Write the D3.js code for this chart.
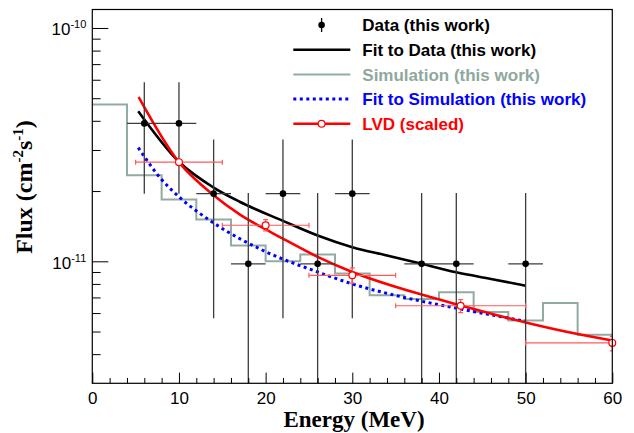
<!DOCTYPE html>
<html>
<head>
<meta charset="utf-8">
<script src="https://cdn.jsdelivr.net/npm/d3@7"></script>
<style>
  body { margin: 0; background: #fff; }
  text { font-family: "Liberation Sans", Arial, Helvetica, sans-serif; }
</style>
</head>
<body>
<div id="chart"></div>
<script>
// Data points (this work)
const dataE = [6, 10, 14, 18, 22, 26, 30, 38, 42, 50];
const dataFlux = [3.9e-11, 3.9e-11, 1.95e-11, 9.75e-12, 1.95e-11, 9.75e-12, 1.95e-11, 9.75e-12, 9.75e-12, 9.75e-12];
const dataLow = [1.95e-11, 1.95e-11, 5.7e-12, 0, 5.7e-12, 0, 5.7e-12, 0, 0, 0];
const dataHigh = [5.85e-11, 5.85e-11, 3.33e-11, 1.96e-11, 3.33e-11, 1.96e-11, 3.33e-11, 1.96e-11, 1.96e-11, 1.96e-11];
const dataHalfBin = 2;

// Simulation histogram
const simEdges = [0, 4, 8, 12, 16, 20, 24, 28, 32, 36, 40, 44, 48, 52, 56, 60];
const simFlux = [4.70e-11, 2.34e-11, 1.84e-11, 1.51e-11, 1.17e-11, 1.00e-11, 1.07e-11, 8.86e-12,
                 7.15e-12, 6.90e-12, 7.36e-12, 6.07e-12, 5.58e-12, 6.63e-12, 4.84e-12];

// Fit to data
const fitDataE = [5.3, 10, 14, 17, 22, 26, 30, 34, 38, 42, 46, 50];
const fitDataFlux = [4.40e-11, 2.67e-11, 2.07e-11, 1.80e-11, 1.49e-11, 1.29e-11, 1.15e-11, 1.06e-11,
                     9.76e-12, 8.97e-12, 8.40e-12, 7.86e-12];

// Fit to simulation
const fitSimE = [5.3, 8, 10, 14, 20, 26, 30, 36, 42, 50];
const fitSimFlux = [3.07e-11, 2.24e-11, 1.89e-11, 1.46e-11, 1.10e-11, 9.0e-12, 8.0e-12, 7.0e-12, 6.3e-12, 5.53e-12];

// LVD (scaled) curve and points
const lvdCurveE = [5.35, 10, 14, 17, 20, 22, 26, 30, 38, 42, 50, 56, 60];
const lvdCurveFlux = [5.06e-11, 2.66e-11, 1.92e-11, 1.59e-11, 1.37e-11, 1.25e-11, 1.045e-11, 9.0e-12,
                      7.2e-12, 6.55e-12, 5.47e-12, 4.88e-12, 4.58e-12];
const lvdE = [10, 20, 30, 42.5, 60];
const lvdFlux = [2.66e-11, 1.427e-11, 8.71e-12, 6.45e-12, 4.47e-12];
const lvdELow = [5, 15, 25, 35, 50];
const lvdEHigh = [15, 25, 35, 50, 70];
const lvdFluxLow = [2.66e-11, 1.35e-11, 8.07e-12, 6.03e-12, 4.13e-12];
const lvdFluxHigh = [2.66e-11, 1.51e-11, 9.37e-12, 6.85e-12, 4.77e-12];

// Axis ticks
const xMajorTicks = [0, 10, 20, 30, 40, 50, 60];
const xMinorTicks = d3.range(0, 61, 2).filter(v => v % 10 !== 0);
const yMajorTicks = [1e-11, 1e-10];
const yTickExp = ["-11", "-10"];
const yMinorTicks = [4e-12, 5e-12, 6e-12, 7e-12, 8e-12, 9e-12, 2e-11, 3e-11, 4e-11, 5e-11, 6e-11, 7e-11, 8e-11, 9e-11];

const legendLabels = ["Data (this work)", "Fit to Data (this work)", "Simulation (this work)",
                      "Fit to Simulation (this work)", "LVD (scaled)"];

const colData = "#000";
const colSim = "#91aba1";
const colSimText = "#8fa89e";
const colBlue = "#0000ff";
const colRed = "#ff0000";
const colRedErr = "#ff5a5a";
const colErr = "#3c3c3c";

// Set dimensions and margins
const W = 634, H = 433;
const margin = { top: 9.5, right: 21.7, bottom: 49.7, left: 92.3 };
const width = W - margin.left - margin.right;
const height = H - margin.top - margin.bottom;

const x = d3.scaleLinear().domain([0, 60]).range([0, width]);
const y = d3.scaleLog().domain([3e-12, 1.2e-10]).range([height, 0]);
const yc = v => y(Math.max(v, 3e-12));

const svg = d3.select("#chart")
  .append("svg")
    .attr("width", W)
    .attr("height", H);

const g = svg.append("g")
    .attr("transform", `translate(${margin.left},${margin.top})`);

g.append("clipPath").attr("id", "plot-clip")
  .append("rect").attr("width", width).attr("height", height);

const plot = g.append("g").attr("clip-path", "url(#plot-clip)");

// Simulation histogram (steps)
const simPts = simEdges.map((e, i) => [e, simFlux[Math.min(i, simFlux.length - 1)]]);
plot.append("path")
  .datum(simPts)
  .attr("fill", "none")
  .attr("stroke", colSim)
  .attr("stroke-width", 2)
  .attr("d", d3.line().x(d => x(d[0])).y(d => y(d[1])).curve(d3.curveStepAfter));

const curve = d3.line().x(d => x(d[0])).y(d => y(d[1])).curve(d3.curveMonotoneX);

// Fit to simulation
plot.append("path")
  .datum(d3.zip(fitSimE, fitSimFlux))
  .attr("fill", "none")
  .attr("stroke", colBlue)
  .attr("stroke-width", 3)
  .attr("stroke-dasharray", "3,3.5")
  .attr("d", curve);

// Fit to data
plot.append("path")
  .datum(d3.zip(fitDataE, fitDataFlux))
  .attr("fill", "none")
  .attr("stroke", "#000")
  .attr("stroke-width", 2.6)
  .attr("d", curve);

// LVD curve
plot.append("path")
  .datum(d3.zip(lvdCurveE, lvdCurveFlux))
  .attr("fill", "none")
  .attr("stroke", colRed)
  .attr("stroke-width", 2.6)
  .attr("d", curve);

// Data error bars
const dataIdx = d3.range(dataE.length);
plot.selectAll(".err-v")
  .data(dataIdx)
  .join("line")
    .attr("x1", i => x(dataE[i])).attr("x2", i => x(dataE[i]))
    .attr("y1", i => yc(dataLow[i])).attr("y2", i => y(dataHigh[i]))
    .attr("stroke", colErr).attr("stroke-width", 1.3);
plot.selectAll(".err-h")
  .data(dataIdx)
  .join("line")
    .attr("x1", i => x(dataE[i] - dataHalfBin)).attr("x2", i => x(dataE[i] + dataHalfBin))
    .attr("y1", i => y(dataFlux[i])).attr("y2", i => y(dataFlux[i]))
    .attr("stroke", colErr).attr("stroke-width", 1.3);

// LVD error bars
const lvdIdx = d3.range(lvdE.length);
const lvdErr = plot.append("g").attr("stroke", colRedErr).attr("stroke-width", 1.2);
lvdIdx.forEach(i => {
  const yy = y(lvdFlux[i]);
  const x0 = x(lvdELow[i]), x1 = x(lvdEHigh[i]), xm = x(lvdE[i]);
  lvdErr.append("line").attr("x1", x0).attr("x2", x1).attr("y1", yy).attr("y2", yy);
  [x0, x1].forEach(xe => lvdErr.append("line")
    .attr("x1", xe).attr("x2", xe).attr("y1", yy - 2.5).attr("y2", yy + 2.5));
  if (lvdFluxHigh[i] > lvdFluxLow[i]) {
    const ylo = y(lvdFluxLow[i]), yhi = y(lvdFluxHigh[i]);
    lvdErr.append("line").attr("x1", xm).attr("x2", xm).attr("y1", ylo).attr("y2", yhi);
    [ylo, yhi].forEach(ye => lvdErr.append("line")
      .attr("x1", xm - 2.5).attr("x2", xm + 2.5).attr("y1", ye).attr("y2", ye));
  }
});

// Data markers
g.selectAll(".dot")
  .data(dataIdx)
  .join("circle")
    .attr("cx", i => x(dataE[i]))
    .attr("cy", i => y(dataFlux[i]))
    .attr("r", 3.3)
    .attr("fill", colData);

// LVD markers
g.selectAll(".lvd")
  .data(lvdIdx)
  .join("circle")
    .attr("cx", i => x(lvdE[i]))
    .attr("cy", i => y(lvdFlux[i]))
    .attr("r", 3.4)
    .attr("fill", "#fff")
    .attr("stroke", colRed)
    .attr("stroke-width", 1.2);

// Axes
function styleAxis(sel) {
  sel.select(".domain").remove();
  sel.selectAll(".tick line").attr("stroke", "#000");
  sel.selectAll(".tick text").attr("fill", "#000").style("font-size", "17px");
}

g.append("g")
  .attr("transform", `translate(0,${height})`)
  .call(d3.axisBottom(x).tickValues(xMajorTicks).tickSize(-10.7).tickPadding(9))
  .call(styleAxis);

g.append("g")
  .attr("transform", `translate(0,${height})`)
  .call(d3.axisBottom(x).tickValues(xMinorTicks).tickSize(-5.3).tickFormat(""))
  .call(styleAxis);

g.append("g")
  .call(d3.axisLeft(y).tickValues(yMajorTicks).tickSize(-16).tickFormat(""))
  .call(styleAxis);

g.append("g")
  .call(d3.axisLeft(y).tickValues(yMinorTicks).tickSize(-8.3).tickFormat(""))
  .call(styleAxis);

// y tick labels with exponents
const yl = g.selectAll(".ylab")
  .data(yMajorTicks)
  .join("text")
    .attr("x", -6)
    .attr("y", d => y(d) + 7.5)
    .attr("text-anchor", "end")
    .style("font-size", "17px")
    .attr("fill", "#000");
yl.append("tspan").text("10");
yl.append("tspan").attr("dy", -7).style("font-size", "11px").text((d, i) => yTickExp[i]);

// Frame
g.append("rect")
  .attr("width", width)
  .attr("height", height)
  .attr("fill", "none")
  .attr("stroke", "#000")
  .attr("stroke-width", 1.2);

// Axis titles
svg.append("text")
  .attr("x", 354)
  .attr("y", 427)
  .attr("text-anchor", "middle")
  .style("font-family", "'Liberation Serif', 'Times New Roman', serif")
  .style("font-weight", "bold")
  .style("font-size", "23px")
  .text("Energy (MeV)");

const yt = svg.append("text")
  .attr("transform", "translate(32,187) rotate(-90)")
  .attr("text-anchor", "middle")
  .style("font-family", "'Liberation Serif', 'Times New Roman', serif")
  .style("font-weight", "bold")
  .style("font-size", "24px");
yt.append("tspan").text("Flux (cm");
yt.append("tspan").attr("dy", -9).style("font-size", "15px").text("-2");
yt.append("tspan").attr("dy", 9).text("s");
yt.append("tspan").attr("dy", -9).style("font-size", "15px").text("-1");
yt.append("tspan").attr("dy", 9).text(")");

// Legend
const legendColors = ["#000", "#000", colSimText, colBlue, colRed];
const lg = svg.append("g").attr("transform", "translate(293.3,25)");
const rowH = 24.7;
legendLabels.forEach((lab, i) => {
  const ry = i * rowH;
  if (i === 0) {
    lg.append("line").attr("x1", 28.3).attr("x2", 28.3).attr("y1", ry - 7).attr("y2", ry + 7)
      .attr("stroke", "#000").attr("stroke-width", 1.3);
    lg.append("circle").attr("cx", 28.3).attr("cy", ry).attr("r", 3.3).attr("fill", "#000");
  } else {
    const ln = lg.append("line").attr("x1", 0).attr("x2", 57).attr("y1", ry).attr("y2", ry);
    if (i === 1) ln.attr("stroke", "#000").attr("stroke-width", 2.6);
    if (i === 2) ln.attr("stroke", colSim).attr("stroke-width", 2);
    if (i === 3) ln.attr("stroke", colBlue).attr("stroke-width", 3).attr("stroke-dasharray", "3,3.5");
    if (i === 4) {
      ln.attr("stroke", colRed).attr("stroke-width", 2.6);
      lg.append("circle").attr("cx", 28.3).attr("cy", ry).attr("r", 3.4)
        .attr("fill", "#fff").attr("stroke", colRed).attr("stroke-width", 1.2);
    }
  }
  lg.append("text")
    .attr("x", 69)
    .attr("y", ry)
    .attr("dy", "0.36em")
    .style("font-size", "17px")
    .style("font-weight", "bold")
    .attr("fill", legendColors[i])
    .text(lab);
});
</script>
</body>
</html>
